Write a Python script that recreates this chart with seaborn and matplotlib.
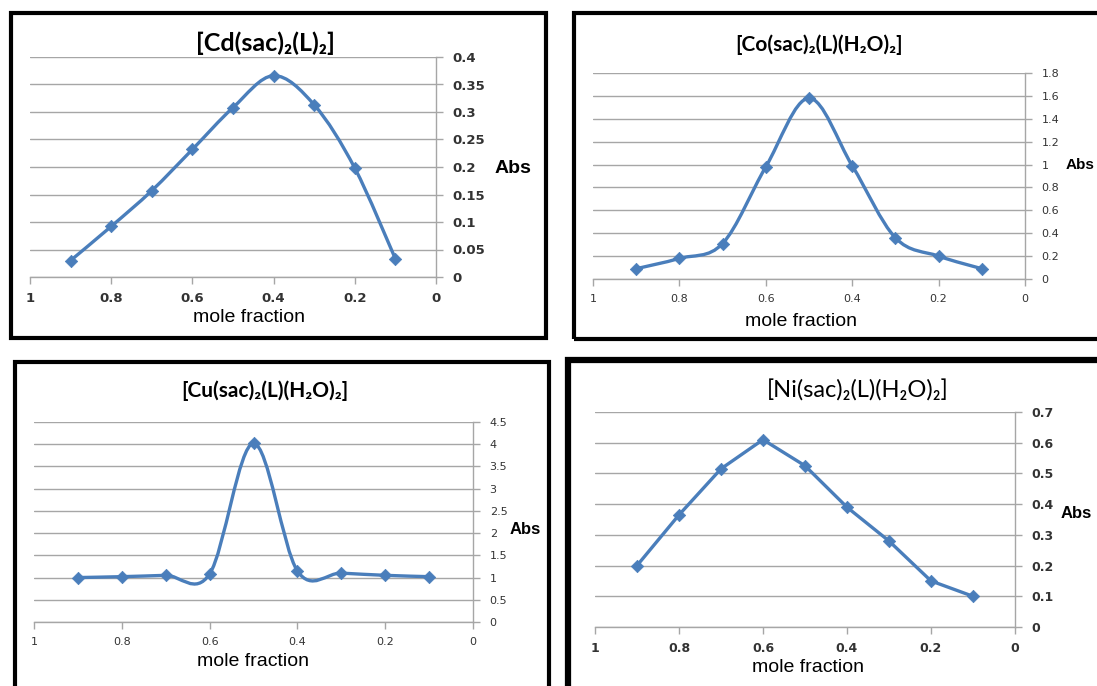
import matplotlib
matplotlib.use("Agg")
import matplotlib.pyplot as plt
from matplotlib.path import Path
from matplotlib.patches import PathPatch, Rectangle
from matplotlib.ticker import FuncFormatter, MultipleLocator
import numpy as np
import pandas as pd
import seaborn as sns

# datos
mole_fraction = [0.9, 0.8, 0.7, 0.6, 0.5, 0.4, 0.3, 0.2, 0.1]
abs_cd = [0.030, 0.092, 0.157, 0.232, 0.308, 0.366, 0.313, 0.198, 0.033]
abs_co = [0.09, 0.18, 0.31, 0.98, 1.58, 0.99, 0.36, 0.20, 0.09]
abs_cu = [1.00, 1.02, 1.05, 1.08, 4.02, 1.15, 1.10, 1.05, 1.02]
abs_ni = [0.20, 0.365, 0.515, 0.61, 0.525, 0.39, 0.28, 0.15, 0.10]

x_ticks = [1, 0.8, 0.6, 0.4, 0.2, 0]

W, H = 1097, 686
BLUE = "#4A7EBB"

sns.set_theme(style="white")
plt.rcParams["font.family"] = ["DejaVu Sans"]


def fx(px):
    return px / W


def fy(py):
    return 1 - py / H


def fmt(v, pos):
    return f"{v:g}"


def smooth_path(xs, ys):
    # curva suavizada tipo Excel (bezier con tension 1/6)
    pts = np.column_stack([xs, ys])
    n = len(pts)
    verts = [pts[0]]
    codes = [Path.MOVETO]
    for i in range(n - 1):
        p0 = pts[i - 1] if i > 0 else pts[i]
        p1 = pts[i]
        p2 = pts[i + 1]
        p3 = pts[i + 2] if i + 2 < n else pts[i + 1]
        c1 = p1 + (p2 - p0) / 6
        c2 = p2 - (p3 - p1) / 6
        verts += [c1, c2, p2]
        codes += [Path.CURVE4] * 3
    return Path(verts, codes)


fig = plt.figure(figsize=(W / 100, H / 100), dpi=100)

# marcos negros de cada panel
for (x0, y0, x1, y1, lw) in [(11, 13, 546, 338, 3), (574, 13, 1100, 339, 3),
                             (15, 362, 549, 690, 3), (568, 360, 1100, 690, 4.5)]:
    fig.patches.append(Rectangle((fx(x0), fy(y1)), fx(x1 - x0), (y1 - y0) / H,
                                 transform=fig.transFigure, fill=False,
                                 edgecolor="black", linewidth=lw, zorder=0))

panels = [
    dict(y=abs_cd, box=(30, 57, 436, 277), ymax=0.4, step=0.05, smooth=True,
         title="[Cd(sac)₂(L)₂]", tpos=(265, 43), tsize=18, tweight="bold",
         xlpos=(249, 318), abspos=(1.145, 0.493), abssize=14, tick=9.5, tickw="bold"),
    dict(y=abs_co, box=(593, 73, 1025, 279), ymax=1.8, step=0.2, smooth=True,
         title="[Co(sac)₂(L)(H₂O)₂]", tpos=(819, 45), tsize=15, tweight="bold",
         xlpos=(801, 321), abspos=(1.094, 0.553), abssize=11, tick=8, tickw="normal"),
    dict(y=abs_cu, box=(34, 422, 473, 622), ymax=4.5, step=0.5, smooth=True,
         title="[Cu(sac)₂(L)(H₂O)₂]", tpos=(265, 391), tsize=15, tweight="bold",
         xlpos=(253, 661), abspos=(1.084, 0.46), abssize=12, tick=8, tickw="normal"),
    dict(y=abs_ni, box=(595, 412, 1015, 627), ymax=0.7, step=0.1, smooth=False,
         title="[Ni(sac)₂(L)(H₂O)₂]", tpos=(858, 391), tsize=17, tweight="normal",
         xlpos=(808, 668), abspos=(1.109, 0.526), abssize=12, tick=9, tickw="bold"),
]

for p in panels:
    l, t, r, b = p["box"]
    ax = fig.add_axes([fx(l), fy(b), (r - l) / W, (b - t) / H])
    df = pd.DataFrame({"x": mole_fraction, "abs": p["y"]})

    if p["smooth"]:
        ax.add_patch(PathPatch(smooth_path(df["x"].values, df["abs"].values),
                               facecolor="none", edgecolor=BLUE, lw=2.4, zorder=3))
    else:
        sns.lineplot(data=df, x="x", y="abs", ax=ax, color=BLUE, lw=2.4,
                     sort=False, zorder=3)
    sns.scatterplot(data=df, x="x", y="abs", ax=ax, marker="D", s=40,
                    color=BLUE, edgecolor=BLUE, linewidth=0.5, zorder=4)

    ax.set_xlim(1, 0)
    ax.set_ylim(0, p["ymax"])
    ax.set_xticks(x_ticks)
    ax.yaxis.set_major_locator(MultipleLocator(p["step"]))
    ax.xaxis.set_major_formatter(FuncFormatter(fmt))
    ax.yaxis.set_major_formatter(FuncFormatter(fmt))
    ax.yaxis.tick_right()
    ax.grid(axis="y", color="#A6A6A6", lw=1)
    ax.set_axisbelow(True)
    for s in ["top", "left"]:
        ax.spines[s].set_visible(False)
    for s in ["right", "bottom"]:
        ax.spines[s].set_color("#A6A6A6")
        ax.spines[s].set_linewidth(1)
    ax.tick_params(axis="both", direction="out", length=5, width=1,
                   color="#A6A6A6", labelsize=p["tick"], labelcolor="#333333")
    ax.tick_params(axis="y", right=True, left=False, pad=7)
    ax.tick_params(axis="x", bottom=True, pad=6)
    for lab in ax.get_xticklabels() + ax.get_yticklabels():
        lab.set_fontweight(p["tickw"])
    ax.set_xlabel("")
    ax.set_ylabel("")
    ax.set_facecolor("white")

    ax.text(p["abspos"][0], p["abspos"][1], "Abs", transform=ax.transAxes,
            ha="left", va="center", fontsize=p["abssize"], fontweight="bold",
            family=["Liberation Sans", "DejaVu Sans"], color="black")
    fig.text(fx(p["tpos"][0]), fy(p["tpos"][1]), p["title"], ha="center", va="center",
             fontsize=p["tsize"], fontweight=p["tweight"],
             family=["Lato", "DejaVu Sans"], color="black")
    fig.text(fx(p["xlpos"][0]), fy(p["xlpos"][1]), "mole fraction", ha="center",
             va="center", fontsize=14, family=["Liberation Sans", "DejaVu Sans"],
             color="black")

fig.savefig("out.png", dpi=100, facecolor="white")
